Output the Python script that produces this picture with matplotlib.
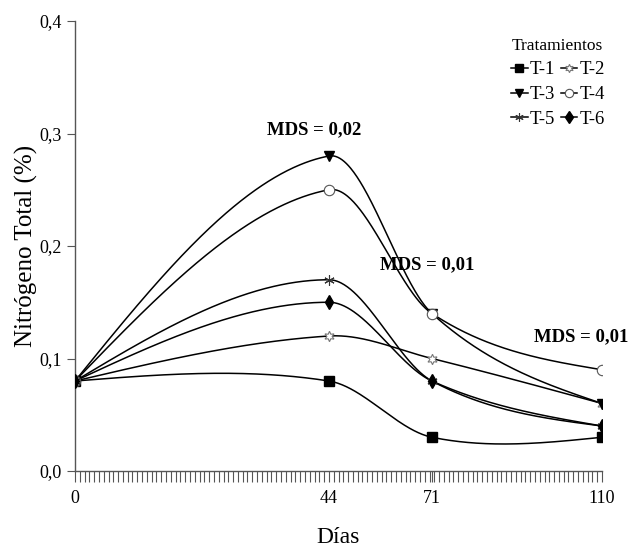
import numpy as np
import matplotlib
matplotlib.use("Agg")
import matplotlib.pyplot as plt

plt.rcParams['font.family'] = ['Liberation Serif', 'DejaVu Serif']

# Datos (las posiciones en el eje no son proporcionales a los días en el original)
dias_etiquetas = ["0", "44", "71", "110"]
dias_pos = [0, 53, 74.5, 110]

t1 = [0.08, 0.08, 0.03, 0.03]
t2 = [0.08, 0.12, 0.10, 0.06]
t3 = [0.08, 0.28, 0.14, 0.06]
t4 = [0.08, 0.25, 0.14, 0.09]
t5 = [0.08, 0.17, 0.08, 0.04]
t6 = [0.08, 0.15, 0.08, 0.04]

series = [("T-1", t1), ("T-2", t2), ("T-3", t3), ("T-4", t4), ("T-5", t5), ("T-6", t6)]

mds_textos = ["MDS = 0,02", "MDS = 0,01", "MDS = 0,01"]
mds_x = [50, 73.5, 105.6]
mds_y = [0.303, 0.183, 0.119]


def suavizar(x, y, xs):
    # Hermite cúbico: pendientes Catmull-Rom en el interior, extremos "naturales"
    x = np.asarray(x, float)
    y = np.asarray(y, float)
    n = len(x)
    m = np.zeros(n)
    for i in range(1, n - 1):
        m[i] = (y[i + 1] - y[i - 1]) / (x[i + 1] - x[i - 1])
    m[0] = (3 * (y[1] - y[0]) / (x[1] - x[0]) - m[1]) / 2
    m[-1] = (3 * (y[-1] - y[-2]) / (x[-1] - x[-2]) - m[-2]) / 2
    out = np.empty_like(xs)
    for j, xv in enumerate(xs):
        i = int(np.clip(np.searchsorted(x, xv, side='right') - 1, 0, n - 2))
        h = x[i + 1] - x[i]
        t = (xv - x[i]) / h
        h00 = 2 * t**3 - 3 * t**2 + 1
        h10 = t**3 - 2 * t**2 + t
        h01 = -2 * t**3 + 3 * t**2
        h11 = t**3 - t**2
        out[j] = h00 * y[i] + h10 * h * m[i] + h01 * y[i + 1] + h11 * h * m[i + 1]
    return out


estilos = {
    "T-1": dict(marker='s', ms=6.5, mfc='black', mec='black'),
    "T-2": dict(marker=(6, 1, 0), ms=7.5, mfc='white', mec='#777777', mew=0.8),
    "T-3": dict(marker='v', ms=6.5, mfc='black', mec='black'),
    "T-4": dict(marker='o', ms=7.5, mfc='white', mec='#555555', mew=0.8),
    "T-5": dict(marker=(6, 2, 0), ms=7.5, mec='#333333', mew=0.8),
    "T-6": dict(marker='d', ms=7.5, mfc='black', mec='black'),
}

fig = plt.figure(figsize=(6.39, 5.51), dpi=100)
ax = fig.add_axes([75 / 639, 1 - 471 / 551, 527 / 639, 450 / 551])

xs = np.linspace(0, 110, 500)
for nombre, vals in series:
    ys = suavizar(dias_pos, vals, xs)
    ax.plot(xs, ys, color='black', lw=1.1, zorder=2)
    ax.plot(dias_pos, vals, ls='none', zorder=3, **estilos[nombre])

# Leyenda: filas T-1/T-2, T-3/T-4, T-5/T-6
orden = ["T-1", "T-3", "T-5", "T-2", "T-4", "T-6"]
handles = [plt.Line2D([], [], color='black', lw=1.1, **estilos[n]) for n in orden]
leg = ax.legend(handles, orden, ncol=2, title="Tratamientos",
                loc='upper left', bbox_to_anchor=(0.795, 1.0), frameon=False,
                handlelength=0.9, handletextpad=0.1, columnspacing=0.3,
                labelspacing=0.4, fontsize=13.5, title_fontsize=12.5,
                markerscale=0.8)

for txt, x, y in zip(mds_textos, mds_x, mds_y):
    ax.text(x, y, txt, ha='center', va='center', fontsize=13.5, fontweight='bold')

ax.set_xlim(0, 110)
ax.set_ylim(0, 0.4)
ax.set_xticks(dias_pos)
ax.set_xticklabels(dias_etiquetas)
ax.set_xticks(np.arange(0, 111, 1), minor=True)
ax.set_yticks([0, 0.1, 0.2, 0.3, 0.4])
ax.set_yticklabels(["0,0", "0,1", "0,2", "0,3", "0,4"])

ax.tick_params(axis='x', which='both', direction='out', length=8, width=0.8,
               color='#555555', labelsize=13, pad=6)
ax.tick_params(axis='y', which='major', direction='out', length=6, width=0.8,
               color='#555555', labelsize=13)
ax.spines['top'].set_visible(False)
ax.spines['right'].set_visible(False)
for s in ['left', 'bottom']:
    ax.spines[s].set_color('#555555')
    ax.spines[s].set_linewidth(1.0)

ax.set_xlabel("Días", fontsize=17, labelpad=14)
ax.set_ylabel("Nitrógeno Total (%)", fontsize=18, labelpad=1)

fig.savefig("out.png", dpi=100)
